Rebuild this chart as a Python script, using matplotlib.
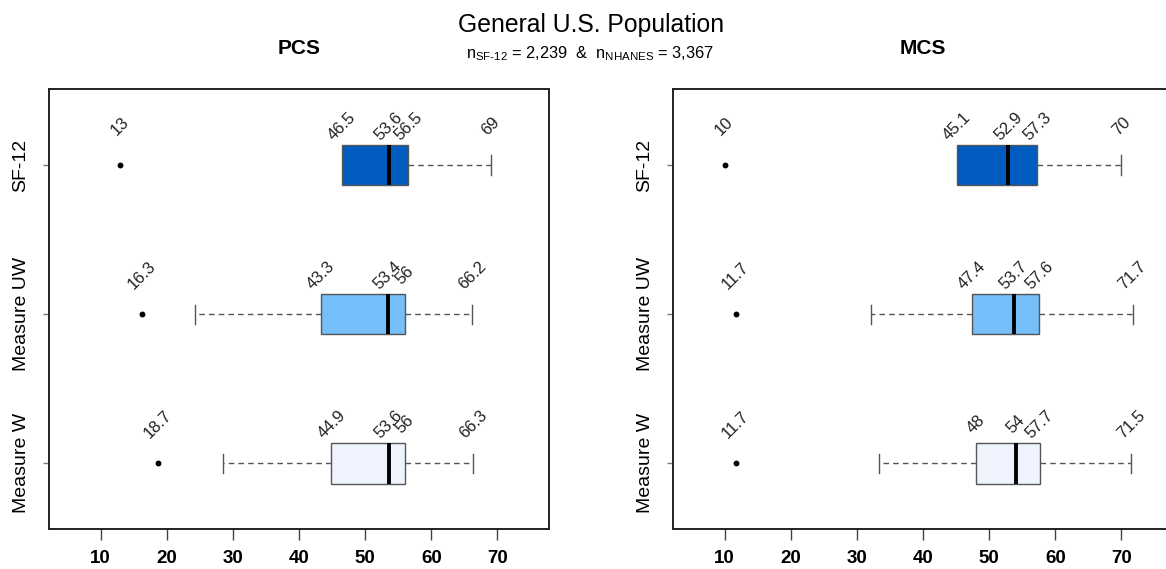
import matplotlib
matplotlib.use("Agg")
import matplotlib.pyplot as plt

plt.rcParams['font.family'] = ['Liberation Sans', 'DejaVu Sans']
plt.rcParams['mathtext.fontset'] = 'custom'
plt.rcParams['mathtext.rm'] = 'Liberation Sans'

categories = ["Measure W", "Measure UW", "SF-12"]
box_colors = ["#EEF3FE", "#74BEF9", "#005CBF"]

# PCS: lower whisker, quartiles, median, upper whisker, outlier (SF-12 has no lower whisker)
pcs_whislo = [28.5, 24.3, None]
pcs_q1 = [44.9, 43.3, 46.5]
pcs_med = [53.6, 53.4, 53.6]
pcs_q3 = [56.0, 56.0, 56.5]
pcs_whishi = [66.3, 66.2, 69.0]
pcs_out = [18.7, 16.3, 13.0]

# MCS
mcs_whislo = [33.4, 32.2, None]
mcs_q1 = [48.0, 47.4, 45.1]
mcs_med = [54.0, 53.7, 52.9]
mcs_q3 = [57.7, 57.6, 57.3]
mcs_whishi = [71.5, 71.7, 70.0]
mcs_out = [11.7, 11.7, 10.0]

xticks = [10, 20, 30, 40, 50, 60, 70]

W, H = 1166, 569
fig = plt.figure(figsize=(W / 100, H / 100), dpi=100)

def fmt(v):
    s = f"{v:.1f}"
    return s[:-2] if s.endswith(".0") else s

def panel(rect, xlim, title, whislo, q1, med, q3, whishi, out):
    ax = fig.add_axes(rect)
    stats = []
    for i in range(3):
        lo = whislo[i] if whislo[i] is not None else q1[i]
        stats.append(dict(whislo=lo, q1=q1[i], med=med[i], q3=q3[i],
                          whishi=whishi[i], fliers=[out[i]]))
    pos = [1, 2, 3]
    bp = ax.bxp(stats, positions=pos, vert=False, widths=0.27, patch_artist=True,
                boxprops=dict(edgecolor="#555555", linewidth=1.0),
                medianprops=dict(color="black", linewidth=2.8),
                whiskerprops=dict(color="#555555", linestyle=(0, (4, 3)), linewidth=1.0),
                capprops=dict(color="#555555", linewidth=1.0),
                flierprops=dict(marker="o", markersize=3.2, markerfacecolor="black",
                                markeredgecolor="black"),
                capwidths=0.13)
    for patch, c in zip(bp["boxes"], box_colors):
        patch.set_facecolor(c)
        patch.set_zorder(2)
    for m in bp["medians"]:
        m.set_zorder(3)
    for i in range(3):
        if whislo[i] is None:
            bp["caps"][2 * i].set_visible(False)
            bp["whiskers"][2 * i].set_visible(False)
    off = 0.26
    for i in range(3):
        y = pos[i] + off
        vals = [out[i], q1[i], med[i], q3[i], whishi[i]]
        for v in vals:
            ax.text(v, y, fmt(v), rotation=45, ha="center", va="center",
                    fontsize=12, color="#222222")
    ax.set_xlim(*xlim)
    ax.set_ylim(0.56, 3.51)
    ax.set_xticks(xticks)
    ax.set_xticklabels([str(t) for t in xticks], fontsize=13.5, fontweight="bold")
    ax.set_yticks(pos)
    ax.set_yticklabels(categories, rotation=90, va="center", fontsize=14)
    ax.tick_params(axis="x", length=8, width=1.0, color="#444444", pad=7)
    ax.tick_params(axis="y", length=4, width=1.0, color="#777777", pad=10)
    for s in ax.spines.values():
        s.set_linewidth(1.4)
        s.set_color("#222222")
    ax.set_title(title, fontsize=15, fontweight="bold", pad=25)
    return ax

ybot = (H - 529) / H
hgt = 440 / H
panel([49 / W, ybot, 500 / W, hgt], (2.2, 77.8), "PCS",
      pcs_whislo, pcs_q1, pcs_med, pcs_q3, pcs_whishi, pcs_out)
panel([673 / W, ybot, 500 / W, hgt], (2.2, 77.8), "MCS",
      mcs_whislo, mcs_q1, mcs_med, mcs_q3, mcs_whishi, mcs_out)

fig.text(591 / W, 1 - 25 / H, "General U.S. Population", ha="center", va="center",
         fontsize=17.8)
fig.text(590 / W, 1 - 54 / H,
         r"n$_{\mathregular{SF\text{-}12}}$ = 2,239  &  n$_{\mathregular{NHANES}}$ = 3,367",
         ha="center", va="center", fontsize=11.8)

fig.savefig("out.png", dpi=100)
